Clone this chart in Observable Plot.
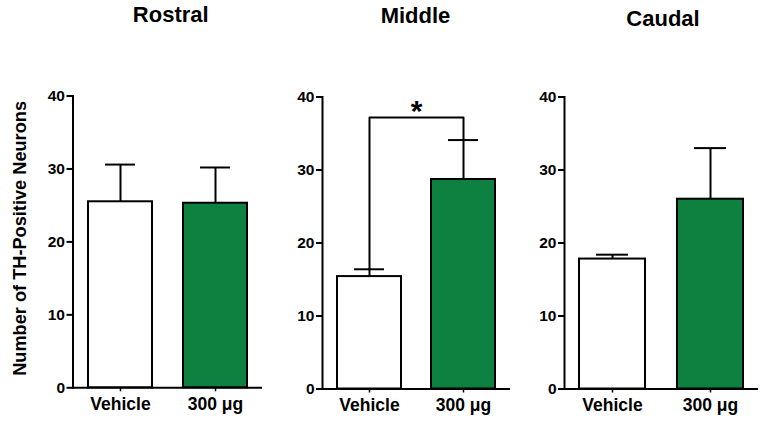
<!DOCTYPE html>
<html>
<head>
<meta charset="utf-8">
<script src="https://cdn.jsdelivr.net/npm/d3@7"></script>
<script src="https://cdn.jsdelivr.net/npm/@observablehq/plot@0.6"></script>
<style>
  html, body { margin: 0; padding: 0; background: #fff; }
  #chart { position: relative; width: 764px; height: 423px; overflow: hidden; }
  #chart svg { position: absolute; top: 0; }
</style>
</head>
<body>
<div id="chart"></div>
<script>
// ---- data ----
const regions = ["Rostral", "Middle", "Caudal"];
const groups = ["Vehicle", "300 μg"];
const meanVehicle = [25.5, 15.4, 17.8];
const semVehicle  = [5.1, 1.0, 0.6];
const meanDose    = [25.3, 28.7, 26.0];
const semDose     = [4.9, 5.4, 7.0];
const yTicks = [0, 10, 20, 30, 40];
const yLabel = "Number of TH-Positive Neurons";
const sigPanel = "Middle";
const sigLabel = "*";
const sigBracketY = 37.2;

// ---- layout per panel ----
const layout = [
  {left: 0,   width: 264, marginLeft: 72.5, marginRight: 2,   marginTop: 95.5, marginBottom: 35.7, titleDx: 3,  titleY: 21},
  {left: 264, width: 250, marginLeft: 58,   marginRight: 4,   marginTop: 96.5, marginBottom: 34.5, titleDx: -1, titleY: 22.7},
  {left: 514, width: 250, marginLeft: 50,   marginRight: 6,   marginTop: 96.5, marginBottom: 34.5, titleDx: 1.5, titleY: 25}
];

const green = "#0e8040";
const container = document.getElementById("chart");

regions.forEach((region, i) => {
  const L = layout[i];
  const rows = [
    {group: groups[0], mean: meanVehicle[i], sem: semVehicle[i]},
    {group: groups[1], mean: meanDose[i], sem: semDose[i]}
  ];
  const marks = [
    Plot.barY(rows, {x: "group", y: "mean", fill: d => d.group === groups[0] ? "#fff" : green, stroke: "#000", strokeWidth: 2}),
    Plot.ruleX(rows, {x: "group", y1: "mean", y2: d => d.mean + d.sem, stroke: "#000", strokeWidth: 2}),
    Plot.tickY(rows, {x: "group", y: d => d.mean + d.sem, stroke: "#000", strokeWidth: 2, insetLeft: 17, insetRight: 17}),
    Plot.ruleY([0], {stroke: "#000", strokeWidth: 2}),
    Plot.frame({anchor: "left", stroke: "#000", strokeWidth: 2}),
    Plot.axisY({ticks: yTicks, tickSize: 6, strokeWidth: 2, tickFormat: () => "", label: null}),
    Plot.text(yTicks, {y: d => d, text: d => String(d), frameAnchor: "left", textAnchor: "end", dx: -8, fontSize: 15.5, fontWeight: "bold", fill: "#000"}),
    Plot.axisX({tickSize: 4, strokeWidth: 1.5, tickFormat: () => "", label: null}),
    Plot.text(rows, {x: "group", text: "group", frameAnchor: "bottom", lineAnchor: "top", dy: 10, fontSize: 17.5, fontWeight: "bold", fill: "#000"}),
    Plot.text([region], {frameAnchor: "top", dy: L.titleY - L.marginTop, dx: L.titleDx, lineAnchor: "bottom", fontSize: 22, fontWeight: "bold", fill: "#000"})
  ];
  if (i === 0) {
    marks.push(Plot.text([yLabel], {frameAnchor: "left", textAnchor: "middle", lineAnchor: "bottom", rotate: -90, dx: -(L.marginLeft - 25), dy: -3.5, fontSize: 18.2, fontWeight: "bold", fill: "#000"}));
  }
  if (region === sigPanel) {
    const v = rows[0], d = rows[1];
    const bracket = [
      {x: v.group, y: v.mean + v.sem},
      {x: v.group, y: sigBracketY},
      {x: d.group, y: sigBracketY},
      {x: d.group, y: d.mean + d.sem}
    ];
    marks.push(Plot.line(bracket, {x: "x", y: "y", stroke: "#000", strokeWidth: 2, curve: "linear"}));
    marks.push(Plot.text([sigLabel], {frameAnchor: "top", y: () => sigBracketY, dy: 4, lineAnchor: "bottom", fontSize: 30, fontWeight: "bold", fill: "#000"}));
  }
  const svg = Plot.plot({
    width: L.width,
    height: 423,
    marginLeft: L.marginLeft,
    marginRight: L.marginRight,
    marginTop: L.marginTop,
    marginBottom: L.marginBottom,
    style: {fontFamily: "'Liberation Sans', Arial, sans-serif", color: "#000", background: "transparent", overflow: "visible"},
    x: {domain: groups, paddingInner: 0.323, paddingOuter: 0.151},
    y: {domain: [0, 40]},
    marks
  });
  svg.style.left = L.left + "px";
  container.appendChild(svg);
});
</script>
</body>
</html>
